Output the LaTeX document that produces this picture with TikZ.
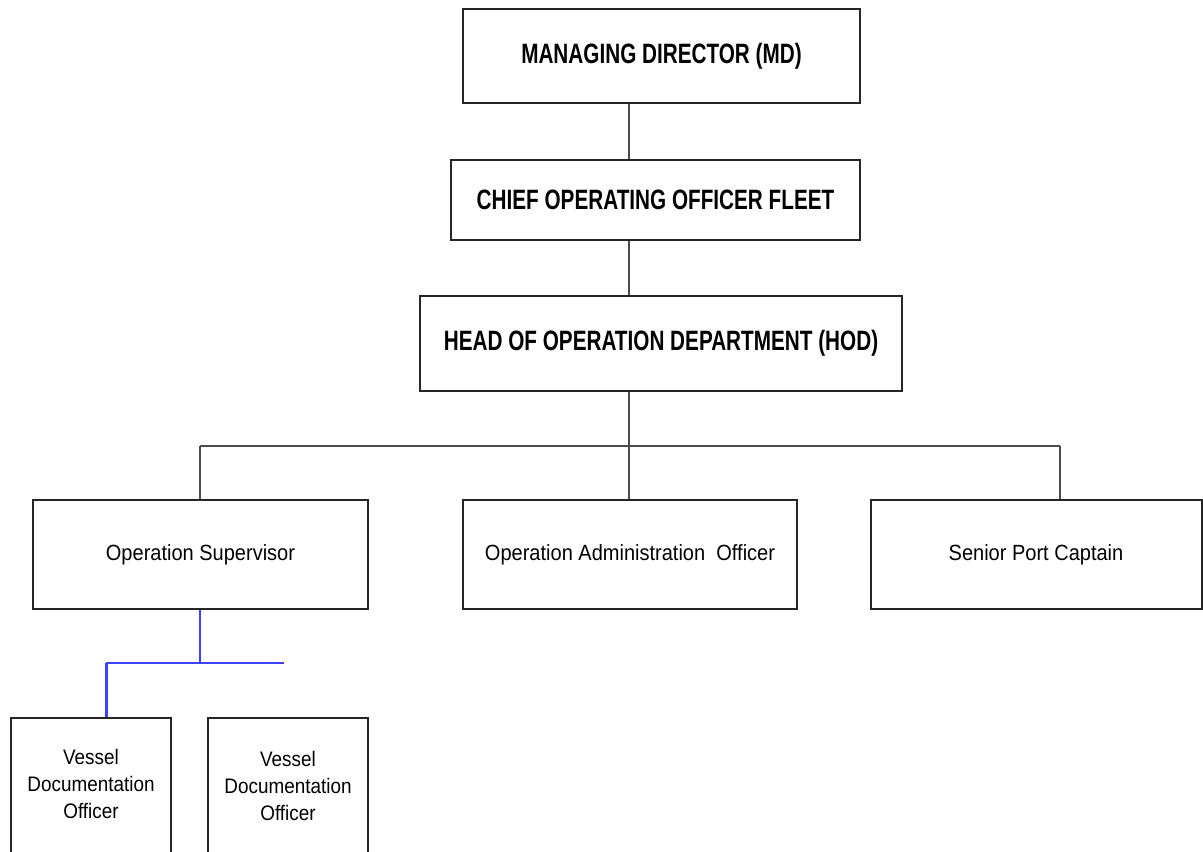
\documentclass[tikz,border=0pt]{standalone}
\usepackage{fontspec}
\setmainfont{Liberation Sans}
\newfontfamily\headfont[FakeStretch=0.74]{Liberation Sans Bold}
\newfontfamily\unitfont[FakeStretch=0.91]{Liberation Sans}
\newfontfamily\smallfont[FakeStretch=0.9]{Liberation Sans}
\begin{document}
\begin{tikzpicture}[x=1pt,y=-1pt,
  box/.style={draw=black!85, line width=2pt, fill=white, inner sep=0pt},
  head/.style={box, font=\headfont\fontsize{28}{30}\selectfont},
  unit/.style={box, font=\unitfont\fontsize{22}{24}\selectfont},
  small/.style={box},
  smalltext/.style={font=\smallfont\fontsize{21}{27}\selectfont, align=center, inner sep=0pt},
  link/.style={draw=black!70, line width=1.6pt},
  sublink/.style={draw=blue!75!white, line width=2.4pt}]
\useasboundingbox (0,0) rectangle (1203,852);
\clip (0,0) rectangle (1203,852);

% senior management
\node[head, minimum width=397pt, minimum height=94pt] (md)  at (661.5,56)  {MANAGING DIRECTOR (MD)};
\node[head, minimum width=409pt, minimum height=80pt] (coo) at (655.5,200) {CHIEF OPERATING OFFICER FLEET};
\node[head, minimum width=482pt, minimum height=95pt] (hod) at (661,343.5) {HEAD OF OPERATION DEPARTMENT (HOD)};

% departments
\node[unit, minimum width=335pt, minimum height=109pt] (os)  at (200.5,554.5) {Operation Supervisor};
\node[unit, minimum width=334pt, minimum height=109pt] (oao) at (630,554.5)   {Operation Administration\ \ Officer};
\node[unit, minimum width=331pt, minimum height=109pt] (spc) at (1036,554.5)  {Senior Port Captain};

% documentation officers (run past the lower edge)
\node[small, minimum width=160pt, minimum height=180pt, anchor=north] (vdo1) at (91,717)  {};
\node[small, minimum width=160pt, minimum height=180pt, anchor=north] (vdo2) at (288,717) {};
\node[smalltext] (t1) at (91,784)  {Vessel\\Documentation\\Officer};
\node[smalltext] (t2) at (288,786) {Vessel\\Documentation\\Officer};

% reporting lines
\coordinate (busL) at (200,446);
\coordinate (busM) at (629,446);
\coordinate (busR) at (1060,446);
\draw[link] (md.south -| busM) -- (coo.north -| busM);
\draw[link] (coo.south -| busM) -- (hod.north -| busM);
\draw[link] (hod.south -| busM) -- (busM) -- (oao.north -| busM);
\draw[link] (busL) -- (busR);
\draw[link] (busL) -- (os.north -| busL);
\draw[link] (busR) -- (spc.north -| busR);

% sub-branch under the supervisor
\coordinate (subM) at (200,663);
\coordinate (subL) at (106,663);
\coordinate (subR) at (284,663);
\draw[sublink] (os.south -| subM) -- (subM);
\draw[sublink] (subL) -- (subR);
\draw[sublink, line width=3pt] (subL) -- (vdo1.north -| subL);
\end{tikzpicture}
\end{document}
